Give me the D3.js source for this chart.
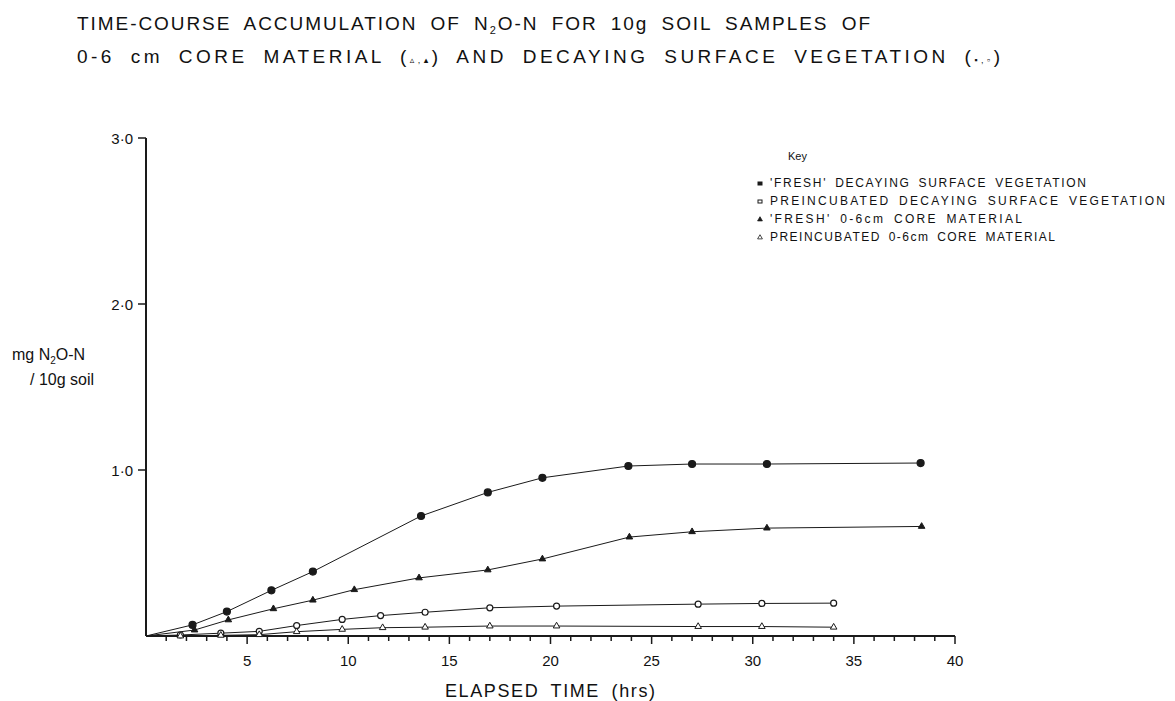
<!DOCTYPE html>
<html><head><meta charset="utf-8">
<script src="https://cdn.jsdelivr.net/npm/d3@7"></script>
<style>
body{margin:0;background:#fff;}
svg{display:block;}
text{font-family:"Liberation Sans","DejaVu Sans",sans-serif;fill:#111;}
</style></head>
<body>
<svg id="chart" width="1175" height="701"></svg>
<script>
// ---- data ----
const freshVegX = [0, 2.3, 4.0, 6.2, 8.25, 13.6, 16.9, 19.6, 23.85, 27.0, 30.7, 38.3];
const freshVegY = [0, 0.067, 0.147, 0.275, 0.388, 0.723, 0.865, 0.953, 1.024, 1.036, 1.036, 1.042];

const preVegX = [0, 1.7, 3.7, 5.6, 7.45, 9.7, 11.6, 13.8, 17.0, 20.3, 27.3, 30.45, 34.0];
const preVegY = [0, 0.006, 0.017, 0.028, 0.063, 0.10, 0.123, 0.143, 0.17, 0.18, 0.192, 0.196, 0.198];

const freshCoreX = [0, 2.4, 4.07, 6.3, 8.25, 10.3, 13.5, 16.9, 19.6, 23.9, 27.0, 30.7, 38.35];
const freshCoreY = [0, 0.036, 0.097, 0.164, 0.216, 0.279, 0.35, 0.398, 0.464, 0.596, 0.628, 0.65, 0.66];

const preCoreX = [0, 1.7, 3.7, 5.6, 7.45, 9.7, 11.7, 13.8, 17.0, 20.3, 27.3, 30.45, 34.0];
const preCoreY = [0, 0.0, 0.004, 0.008, 0.026, 0.04, 0.05, 0.053, 0.06, 0.06, 0.057, 0.057, 0.053];

const xMajorTicks = [5, 10, 15, 20, 25, 30, 35, 40];
const xMinorTicks = d3.range(1, 40).filter(v => v % 5 !== 0);
const yTicks = [1, 2, 3];
const yTickLabels = ["1·0", "2·0", "3·0"];

const legendLabels = [
  "'FRESH' DECAYING SURFACE VEGETATION",
  "PREINCUBATED DECAYING SURFACE VEGETATION",
  "'FRESH' 0-6cm CORE MATERIAL",
  "PREINCUBATED 0-6cm CORE MATERIAL"
];

// ---- layout ----
const svg = d3.select("#chart");
const x = d3.scaleLinear().domain([0, 40]).range([146, 955]);
const y = d3.scaleLinear().domain([0, 3]).range([636, 138]);
const ink = "#1a1a1a";

// title
const t1 = svg.append("text").attr("x", 77).attr("y", 30).attr("font-size", 19)
  .attr("word-spacing", 6)
  .attr("textLength", 793).attr("lengthAdjust", "spacing");
t1.append("tspan").text("TIME-COURSE ACCUMULATION OF N");
t1.append("tspan").attr("font-size", 11).attr("dy", 4).text("2");
t1.append("tspan").attr("dy", -4).text("O-N FOR 10g SOIL SAMPLES OF");

const t2 = svg.append("text").attr("x", 77).attr("y", 63).attr("font-size", 19)
  .attr("word-spacing", 7)
  .attr("textLength", 923).attr("lengthAdjust", "spacing");
t2.append("tspan").text("0-6 cm CORE MATERIAL (");
t2.append("tspan").attr("font-size", 9).text("▵,▴");
t2.append("tspan").text(") AND DECAYING SURFACE VEGETATION (");
t2.append("tspan").attr("font-size", 9).text("▪,▫");
t2.append("tspan").text(")");

// axes
const gx = svg.append("g");
gx.append("line").attr("x1", x(0)).attr("x2", x(40)).attr("y1", y(0)).attr("y2", y(0))
  .attr("stroke", ink).attr("stroke-width", 2);
gx.selectAll("line.maj").data(xMajorTicks).join("line").attr("class", "maj")
  .attr("x1", d => x(d)).attr("x2", d => x(d)).attr("y1", y(0)).attr("y2", y(0) + 8)
  .attr("stroke", ink).attr("stroke-width", 1.5);
gx.selectAll("line.min").data(xMinorTicks).join("line").attr("class", "min")
  .attr("x1", d => x(d)).attr("x2", d => x(d)).attr("y1", y(0)).attr("y2", y(0) + 5)
  .attr("stroke", ink).attr("stroke-width", 1.5);
gx.selectAll("text").data(xMajorTicks).join("text")
  .attr("x", d => x(d)).attr("y", 666).attr("text-anchor", "middle").attr("font-size", 15)
  .text(d => d);

const gy = svg.append("g");
gy.append("line").attr("x1", x(0)).attr("x2", x(0)).attr("y1", y(0)).attr("y2", y(3))
  .attr("stroke", ink).attr("stroke-width", 2);
gy.selectAll("line").filter(".t").data(yTicks).join("line")
  .attr("x1", x(0) - 8).attr("x2", x(0)).attr("y1", d => y(d)).attr("y2", d => y(d))
  .attr("stroke", ink).attr("stroke-width", 1.5);
gy.selectAll("text").data(yTicks).join("text")
  .attr("x", 133).attr("y", d => y(d) + 6).attr("text-anchor", "end").attr("font-size", 15)
  .text((d, i) => yTickLabels[i]);

// axis titles
svg.append("text").attr("x", 550).attr("y", 697).attr("text-anchor", "middle")
  .attr("font-size", 18).attr("word-spacing", 5).attr("textLength", 210).attr("lengthAdjust", "spacing")
  .text("ELAPSED TIME (hrs)");
const yl = svg.append("text").attr("x", 12).attr("y", 360).attr("font-size", 16);
yl.append("tspan").text("mg N");
yl.append("tspan").attr("font-size", 10).attr("dy", 4).text("2");
yl.append("tspan").attr("dy", -4).text("O-N");
svg.append("text").attr("x", 30).attr("y", 385).attr("font-size", 16).text("/ 10g soil");

// series
const series = [
  {xs: freshVegX, ys: freshVegY, shape: "circle", fill: true, r: 3.5},
  {xs: preVegX, ys: preVegY, shape: "circle", fill: false, r: 3.0},
  {xs: freshCoreX, ys: freshCoreY, shape: "tri", fill: true, r: 2.5},
  {xs: preCoreX, ys: preCoreY, shape: "tri", fill: false, r: 2.5}
];
const line = d3.line().x(d => x(d[0])).y(d => y(d[1]));
series.forEach(s => {
  const pts = s.xs.map((v, i) => [v, s.ys[i]]);
  svg.append("path").attr("d", line(pts)).attr("fill", "none")
    .attr("stroke", ink).attr("stroke-width", 1);
  const mk = pts.slice(1);
  if (s.shape === "circle") {
    svg.selectAll(null).data(mk).join("circle")
      .attr("cx", d => x(d[0])).attr("cy", d => y(d[1])).attr("r", s.r)
      .attr("fill", s.fill ? ink : "#fff").attr("stroke", ink).attr("stroke-width", 1.2);
  } else {
    const sym = d3.symbol().type(d3.symbolTriangle).size(s.r * s.r * 3);
    svg.selectAll(null).data(mk).join("path")
      .attr("d", sym).attr("transform", d => `translate(${x(d[0])},${y(d[1])})`)
      .attr("fill", s.fill ? ink : "#fff").attr("stroke", ink).attr("stroke-width", 1);
  }
});

// legend
svg.append("text").attr("x", 788).attr("y", 160).attr("font-size", 11).text("Key");
const legShapes = [["square", true], ["square", false], ["tri", true], ["tri", false]];
legendLabels.forEach((lab, i) => {
  const yy = 187 + i * 18;
  const [shp, filled] = legShapes[i];
  if (shp === "square") {
    svg.append("rect").attr("x", 758).attr("y", yy - 5).attr("width", 4).attr("height", 3)
      .attr("fill", filled ? ink : "#fff").attr("stroke", ink).attr("stroke-width", 1);
  } else {
    svg.append("path").attr("d", d3.symbol().type(d3.symbolTriangle).size(10))
      .attr("transform", `translate(760,${yy - 3.5})`)
      .attr("fill", filled ? ink : "#fff").attr("stroke", ink).attr("stroke-width", 0.8);
  }
  svg.append("text").attr("x", 770).attr("y", yy).attr("font-size", 12).attr("word-spacing", 3)
    .attr("textLength", [316, 395, 252, 285][i]).attr("lengthAdjust", "spacing").text(lab);
});
</script>
</body></html>
